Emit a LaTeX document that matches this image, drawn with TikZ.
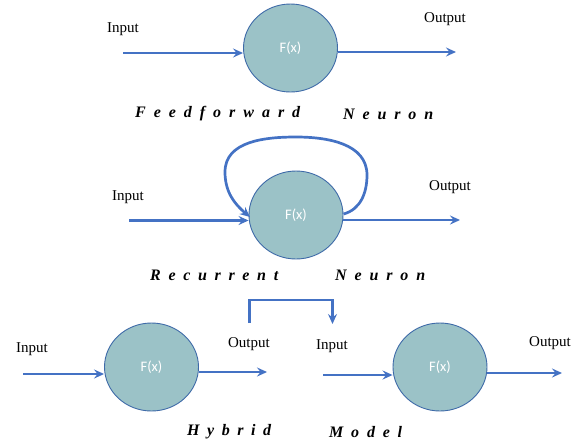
\documentclass[tikz,border=0pt]{standalone}
\usepackage{fontspec}
\setmainfont{Liberation Serif}
\newfontfamily\fxfont{Carlito}
\usetikzlibrary{shapes.geometric,arrows.meta}
\definecolor{arrowblue}{HTML}{4472C4}
\definecolor{cellfill}{HTML}{9BC2C7}
\definecolor{celledge}{HTML}{3E6AA8}
\tikzset{
  cell/.style={ellipse,draw=celledge,line width=0.9pt,fill=cellfill,minimum width=94pt,minimum height=88pt,inner sep=0pt,text=white,font=\fxfont\fontsize{14.5}{16}\selectfont},
  flow/.style={draw=arrowblue,line width=2.7pt,-{Stealth[length=10pt,width=9pt,inset=3.5pt]}},
  lbl/.style={font=\fontsize{15}{17}\selectfont,inner sep=0pt},
  ttl/.style={font=\bfseries\itshape\fontsize{16}{18}\selectfont,inner sep=0pt,anchor=west}
}
\begin{document}
\begin{tikzpicture}[x=1pt,y=-1pt]
\useasboundingbox (0,0) rectangle (584,445);
% Feedforward
\node[cell] (n1) at (290.5,48) {F(x)};
\coordinate (i1) at (123,53);
\coordinate (o1) at (456,52);
\draw[flow] (i1) -- (i1 -| n1.west);
\draw[flow] (o1 -| n1.east) -- (o1);
\node[lbl] (ti1) at (123,29) {Input};
\node[lbl] (to1) at (445,19) {Output};
\node[ttl] (t1a) at (135,114) {\makebox[165pt]{F\hfill e\hfill e\hfill d\hfill f\hfill o\hfill r\hfill w\hfill a\hfill r\hfill d}};
\node[ttl] (t1b) at (343,114) {\makebox[90pt]{N\hfill e\hfill u\hfill r\hfill o\hfill n}};
% Recurrent
\node[cell] (n2) at (296,215) {F(x)};
\coordinate (i2) at (129,220.5);
\coordinate (o2) at (460,220);
\draw[flow] (i2) -- (i2 -| n2.west);
\draw[flow] (o2 -| n2.east) -- (o2);
\coordinate (ls) at (343.5,214);
\coordinate (le) at (250,217);
\draw[flow] (ls) to[out=15,in=-90] (367,175) to[out=90,in=0] (296,137) to[out=180,in=90] (225,172) to[out=-90,in=140] (le);
\node[lbl] (ti2) at (128,197) {Input};
\node[lbl] (to2) at (450,187) {Output};
\node[ttl] (t2a) at (150,275) {\makebox[128pt]{R\hfill e\hfill c\hfill u\hfill r\hfill r\hfill e\hfill n\hfill t}};
\node[ttl] (t2b) at (335,275) {\makebox[90pt]{N\hfill e\hfill u\hfill r\hfill o\hfill n}};
% Hybrid
\node[cell] (n3) at (151.5,367) {F(x)};
\node[cell] (n4) at (440,367) {F(x)};
\coordinate (i3) at (23,374);
\coordinate (o3) at (267,372);
\coordinate (i4) at (323,375);
\coordinate (o4) at (562,373);
\draw[flow] (i3) -- (i3 -| n3.west);
\draw[flow] (o3 -| n3.east) -- (o3);
\draw[flow] (i4) -- (i4 -| n4.west);
\draw[flow] (o4 -| n4.east) -- (o4);
\node[lbl] (ti3) at (32,349) {Input};
\node[lbl] (to3) at (249,344) {Output};
\node[lbl] (ti4) at (332,346) {Input};
\node[lbl] (to4) at (550,343) {Output};
\coordinate (b1) at (249.5,323);
\coordinate (b2) at (332.5,324);
\draw[flow] (b1) -- (249.5,300) -- (332.5,300) -- (b2);
\node[ttl] (t3a) at (187,432) {\makebox[84pt]{H\hfill y\hfill b\hfill r\hfill i\hfill d}};
\node[ttl] (t3b) at (329,432) {\makebox[73pt]{M\hfill o\hfill d\hfill e\hfill l}};
\end{tikzpicture}
\end{document}
